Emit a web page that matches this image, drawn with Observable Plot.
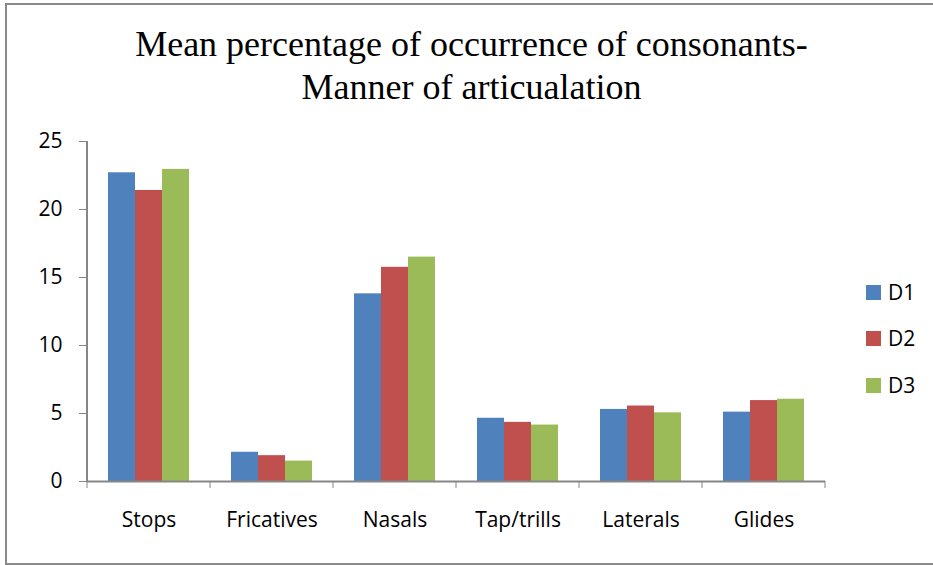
<!DOCTYPE html>
<html><head><meta charset="utf-8">
<script src="https://cdn.jsdelivr.net/npm/d3@7"></script>
<script src="https://cdn.jsdelivr.net/npm/@observablehq/plot@0.6"></script>
<style>
body{margin:0;background:#fff;}
#wrap{position:relative;width:933px;height:565px;overflow:hidden;background:#fff;}
#frame{position:absolute;left:5px;top:3px;width:1000px;height:558px;border:2px solid #8a8a8a;}
#title{position:absolute;left:10px;top:23px;width:923px;text-align:center;font-family:"Liberation Serif","Times New Roman",serif;font-size:36px;line-height:43px;color:#000;}
#chart{position:absolute;left:0;top:120px;}
#legend{position:absolute;left:866px;top:0;font-family:"Open Sans",sans-serif;font-size:21px;color:#000;}
.item{position:absolute;left:0;height:20px;display:flex;align-items:center;white-space:nowrap;}
.sw{width:15px;height:15px;margin-right:7px;}
#chart svg g[aria-label="y-axis tick"] path,
#chart svg g[aria-label="y-axis"] line,
#chart svg g[aria-label="y-axis"] path{stroke:#868686;}
</style>
</head><body>
<div id="wrap">
  <div id="frame"></div>
  <div id="title">Mean percentage of occurrence of consonants-<br>Manner of articualation</div>
  <div id="chart"></div>
  <div id="legend"></div>
</div>
<script>
const categories = ["Stops", "Fricatives", "Nasals", "Tap/trills", "Laterals", "Glides"];
const seriesNames = ["D1", "D2", "D3"];
const seriesColors = ["#4F81BD", "#C0504D", "#9BBB59"];
const valuesD1 = [22.7, 2.15, 13.8, 4.65, 5.3, 5.1];
const valuesD2 = [21.4, 1.9, 15.75, 4.35, 5.55, 5.95];
const valuesD3 = [22.95, 1.5, 16.5, 4.15, 5.05, 6.05];
const yTicks = [0, 5, 10, 15, 20, 25];

const seriesValues = [valuesD1, valuesD2, valuesD3];
const data = categories.flatMap((c, i) =>
  seriesNames.map((s, j) => ({category: c, series: s, value: seriesValues[j][i]})));

const plot = Plot.plot({
  width: 933, height: 445,
  marginTop: 21, marginBottom: 84, marginLeft: 86, marginRight: 108,
  style: {fontFamily: "'Open Sans', sans-serif", fontSize: "21px", color: "black", background: "transparent", overflow: "visible"},
  fx: {domain: categories, padding: 0, label: null, axis: "bottom", tickSize: 0, tickPadding: 31},
  x: {domain: seriesNames, paddingInner: 0, paddingOuter: 0.75, axis: null},
  y: {domain: [0, 25], ticks: yTicks, tickSize: 8, tickPadding: 17, label: null, line: true},
  color: {domain: seriesNames, range: seriesColors},
  marks: [
    Plot.barY(data, {fx: "category", x: "series", y: "value", fill: "series"}),
    Plot.ruleY([0], {stroke: "#868686", strokeWidth: 2})
  ]
});
document.getElementById("chart").appendChild(plot);

// category separator ticks on the x axis, placed with the fx and y scales
const fx = plot.scale("fx");
const ys = plot.scale("y");
const svg = d3.select(plot);
const y0 = ys.apply(0);
const bw = fx.bandwidth;
const edges = categories.map(c => fx.apply(c)).concat([fx.apply(categories[categories.length - 1]) + bw]);
svg.append("g").selectAll("line").data(edges).join("line")
  .attr("x1", d => d).attr("x2", d => d)
  .attr("y1", y0).attr("y2", y0 + 7)
  .attr("stroke", "#868686").attr("stroke-width", 1);
// y axis line in gray
svg.append("line")
  .attr("x1", edges[0]).attr("x2", edges[0])
  .attr("y1", ys.apply(25)).attr("y2", y0)
  .attr("stroke", "#868686").attr("stroke-width", 2);

// legend
const legendTops = [284, 330, 377];
const legend = d3.select("#legend");
seriesNames.forEach((s, i) => {
  const item = legend.append("div").attr("class", "item").style("top", (legendTops[i] - 2) + "px");
  item.append("div").attr("class", "sw").style("background", seriesColors[i]);
  item.append("span").text(s);
});
</script>
</body></html>
